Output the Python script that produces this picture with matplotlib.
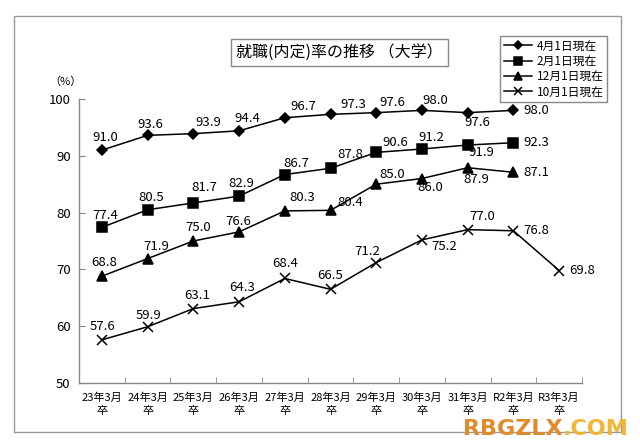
import matplotlib
matplotlib.use("Agg")
import matplotlib.pyplot as plt
from matplotlib.lines import Line2D
from matplotlib.patches import Rectangle
import numpy as np

plt.rcParams['font.family'] = ['Noto Sans CJK JP', 'DejaVu Sans']

# data
categories = ["23年3月\n卒", "24年3月\n卒", "25年3月\n卒", "26年3月\n卒", "27年3月\n卒",
              "28年3月\n卒", "29年3月\n卒", "30年3月\n卒", "31年3月\n卒", "R2年3月\n卒",
              "R3年3月\n卒"]
apr1 = [91.0, 93.6, 93.9, 94.4, 96.7, 97.3, 97.6, 98.0, 97.6, 98.0]
feb1 = [77.4, 80.5, 81.7, 82.9, 86.7, 87.8, 90.6, 91.2, 91.9, 92.3]
dec1 = [68.8, 71.9, 75.0, 76.6, 80.3, 80.4, 85.0, 86.0, 87.9, 87.1]
oct1 = [57.6, 59.9, 63.1, 64.3, 68.4, 66.5, 71.2, 75.2, 77.0, 76.8, 69.8]
series_names = ["4月1日現在", "2月1日現在", "12月1日現在", "10月1日現在"]

# label offsets in pixels (dx, dy up); None = put label right of the point
off_apr = [(3, 13), (3, 11), (15, 11), (8, 12), (19, 11), (23, 10), (16, 10), (13, 10), (10, -10), None]
off_feb = [(3, 12), (4, 12), (11, 15), (2, 13), (12, 11), (20, 14), (19, 10), (9, 11), (14, -7), None]
off_dec = [(2, 14), (9, 12), (5, 13), (-1, 10), (17, 13), (20, 8), (16, 10), (8, -9), (9, -12), None]
off_oct = [(1, 13), (1, 11), (4, 13), (3, 14), (0, 15), (0, 14), (-9, 11), (22, -7), (14, 13), None, None]

fig = plt.figure(figsize=(6.4, 4.47), dpi=100)
fig.patches.append(Rectangle((14 / 640, 1 - 432 / 447), 607 / 640, 416 / 447,
                             transform=fig.transFigure, fill=False,
                             edgecolor='#9a9a9a', linewidth=1.0))

ax = fig.add_axes([79 / 640, 1 - 383 / 447, 503 / 640, 284 / 447])

styles = [('D', 5), ('s', 6.5), ('^', 6.5), ('x', 6.5)]
all_series = [apr1, feb1, dec1, oct1]
all_offs = [off_apr, off_feb, off_dec, off_oct]
handles = []
for vals, (m, ms), offs, name in zip(all_series, styles, all_offs, series_names):
    x = np.arange(len(vals))
    ax.plot(x, vals, color='black', lw=1.1, marker=m, markersize=ms,
            markeredgewidth=1.1, zorder=3)
    handles.append(Line2D([], [], color='black', lw=1.1, marker=m,
                          markersize=ms * 0.85, markeredgewidth=1.1))
    for i, v in enumerate(vals):
        o = offs[i]
        if o is None:
            ax.annotate(f"{v:.1f}", (i, v), xytext=(10, 0), textcoords='offset pixels',
                        ha='left', va='center', fontsize=9.5)
        else:
            ax.annotate(f"{v:.1f}", (i, v), xytext=o, textcoords='offset pixels',
                        ha='center', va='center', fontsize=9.5)

ax.set_xlim(-0.5, len(categories) - 0.5)
ax.set_ylim(50, 100)
ax.set_yticks(range(50, 101, 10))
ax.set_xticks(range(len(categories)))
ax.set_xticklabels(categories, fontsize=8, linespacing=1.35)
ax.set_xticks(np.arange(0.5, len(categories) - 0.4, 1), minor=True)
ax.tick_params(axis='x', which='major', length=0, pad=7)
ax.tick_params(axis='x', which='minor', direction='in', length=4, color='#888888')
ax.tick_params(axis='y', direction='in', length=4, color='#888888', labelsize=9.5, pad=6)
for s in ['top', 'right']:
    ax.spines[s].set_visible(False)
for s in ['left', 'bottom']:
    ax.spines[s].set_color('#888888')
    ax.spines[s].set_linewidth(1.0)

fig.text(65 / 640, 1 - 82 / 447, "（%）", fontsize=8, ha='center', va='center')

fig.text(339.5 / 640, 1 - 52.5 / 447, "就職(内定)率の推移 （大学）", fontsize=11.5,
         ha='center', va='center',
         bbox=dict(boxstyle='square,pad=0.3', facecolor='white', edgecolor='#888888', lw=1))

leg = fig.legend(handles, series_names, loc='upper right',
                 bbox_to_anchor=(613 / 640, 1 - 30 / 447), fontsize=8.5,
                 fancybox=False, edgecolor='#888888', framealpha=1,
                 handlelength=2.4, handletextpad=0.4, labelspacing=0.2,
                 borderpad=0.3)
leg.get_frame().set_linewidth(1.0)

fig.text(563 / 640, 1 - 429 / 447, "RBGZLX", fontsize=16, fontweight='bold',
         color='#e08a2c', family='DejaVu Sans', ha='right', va='center')
fig.text(563 / 640, 1 - 429 / 447, ".COM", fontsize=16, fontweight='bold',
         color='#f2b535', family='DejaVu Sans', ha='left', va='center')

fig.savefig("out.png", dpi=100)
